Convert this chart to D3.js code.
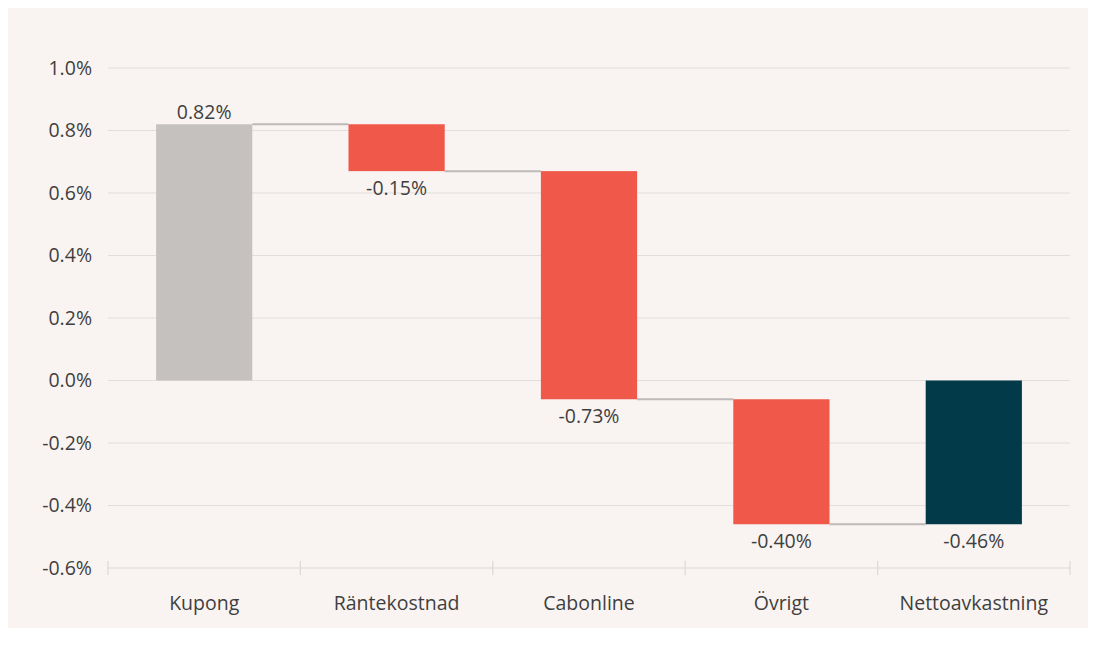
<!DOCTYPE html>
<html>
<head>
<meta charset="utf-8">
<script src="https://cdn.jsdelivr.net/npm/d3@7"></script>
<style>
  body { margin: 0; background: #ffffff; }
  text { font-family: "Open Sans", "Noto Sans", sans-serif; fill: #3f3f3f; }
</style>
</head>
<body>
<script>
// waterfall data
var categories = ["Kupong", "Räntekostnad", "Cabonline", "Övrigt", "Nettoavkastning"];
var values = [0.82, -0.15, -0.73, -0.40, -0.46];
var kinds = ["start", "delta", "delta", "delta", "total"];
var yTicks = [-0.6, -0.4, -0.2, 0.0, 0.2, 0.4, 0.6, 0.8, 1.0];

var W = 1100, H = 649;
var margin = {top: 68, right: 30, bottom: 81, left: 108};
var width = 1070 - margin.left, height = 568 - margin.top;

var svg = d3.select("body").append("svg")
    .attr("width", W).attr("height", H);

// panel
svg.append("rect")
    .attr("x", 8).attr("y", 8)
    .attr("width", 1080).attr("height", 620)
    .attr("fill", "#f9f4f1");

var g = svg.append("g")
    .attr("transform", "translate(" + margin.left + "," + margin.top + ")");

var x = d3.scaleBand().domain(categories).range([0, width]).paddingInner(0.5).paddingOuter(0.25);
var y = d3.scaleLinear().domain([-0.6, 1.0]).range([height, 0]);

// hyphen instead of unicode minus
var pct = function(d, p){ return d3.format("." + p + "f")(d).replace("\u2212", "-") + "%"; };

// build start/end for each bar
var bars = [];
var run = 0;
categories.forEach(function(c, i){
  var v = values[i], b = {cat: c, v: v, kind: kinds[i]};
  if (kinds[i] == "start") { b.y0 = 0; b.y1 = v; run = v; }
  else if (kinds[i] == "total") { b.y0 = 0; b.y1 = v; }
  else { b.y0 = run; b.y1 = run + v; run = run + v; }
  bars.push(b);
});

// gridlines
g.append("g").selectAll("line")
  .data(yTicks.slice(1)).enter().append("line")
    .attr("x1", 0).attr("x2", width)
    .attr("y1", function(d){ return y(d); }).attr("y2", function(d){ return y(d); })
    .attr("stroke", "#e2dedc").attr("stroke-width", 1.2);

// y labels
g.append("g").selectAll("text")
  .data(yTicks).enter().append("text")
    .attr("x", -16)
    .attr("y", function(d){ return y(d); })
    .attr("dy", "0.35em")
    .attr("text-anchor", "end")
    .style("font-size", "19.5px")
    .text(function(d){ return pct(d, 1); });

// x axis
var xa = g.append("g").attr("transform", "translate(0," + height + ")");
xa.append("line").attr("x1", 0).attr("x2", width)
    .attr("stroke", "#dcd8d6").attr("stroke-width", 1.2);
var edges = d3.range(categories.length + 1).map(function(i){ return i * width / categories.length; });
xa.selectAll(".tk").data(edges).enter().append("line")
    .attr("x1", function(d){ return d; }).attr("x2", function(d){ return d; })
    .attr("y1", -7).attr("y2", 7)
    .attr("stroke", "#dcd8d6").attr("stroke-width", 1.2);
xa.selectAll(".cat").data(categories).enter().append("text")
    .attr("x", function(d){ return x(d) + x.bandwidth() / 2; })
    .attr("y", 42)
    .attr("text-anchor", "middle")
    .style("font-size", "19.5px")
    .text(function(d){ return d; });

// connectors
g.append("g").selectAll("line")
  .data(bars.slice(0, -1)).enter().append("line")
    .attr("x1", function(d){ return x(d.cat) + x.bandwidth(); })
    .attr("x2", function(d, i){ return x(categories[i + 1]); })
    .attr("y1", function(d){ return y(d.y1); })
    .attr("y2", function(d){ return y(d.y1); })
    .attr("stroke", "#bdbab8").attr("stroke-width", 2);

// bars
var color = function(d){
  if (d.kind == "start") return "#c5c1bf";
  if (d.kind == "total") return "#033a4a";
  return "#f0584a";
};
g.append("g").selectAll("rect")
  .data(bars).enter().append("rect")
    .attr("x", function(d){ return x(d.cat); })
    .attr("width", x.bandwidth())
    .attr("y", function(d){ return y(Math.max(d.y0, d.y1)); })
    .attr("height", function(d){ return Math.abs(y(d.y0) - y(d.y1)); })
    .attr("fill", color);

// value labels
g.append("g").selectAll("text")
  .data(bars).enter().append("text")
    .attr("x", function(d){ return x(d.cat) + x.bandwidth() / 2; })
    .attr("y", function(d){ return d.v >= 0 ? y(d.y1) - 5 : y(Math.min(d.y0, d.y1)) + 24; })
    .attr("text-anchor", "middle")
    .style("font-size", "19.5px")
    .text(function(d){ return pct(d.v, 2); });
</script>
</body>
</html>
